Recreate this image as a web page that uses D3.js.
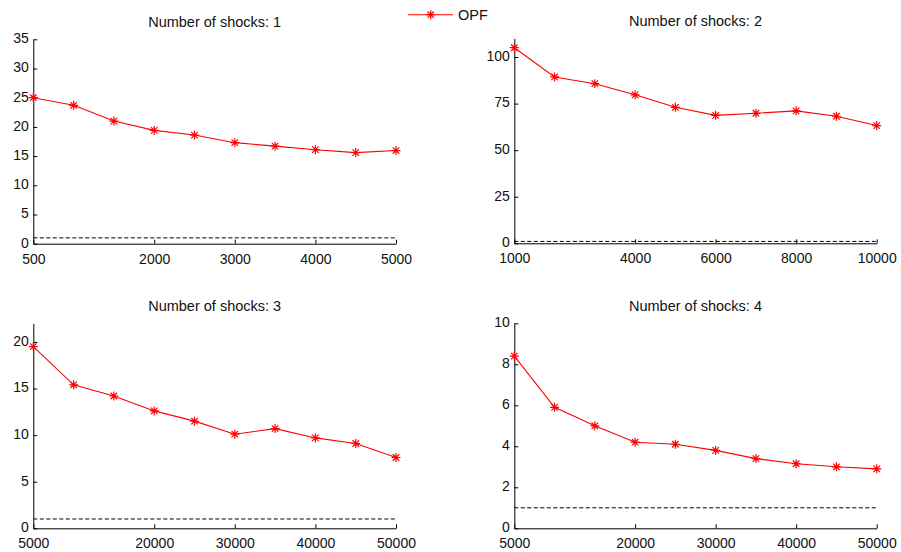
<!DOCTYPE html>
<html>
<head>
<meta charset="utf-8">
<script src="https://cdn.jsdelivr.net/npm/d3@7"></script>
<style>
  body { margin: 0; background: #fff; }
  svg { display: block; font-family: Arial, "Liberation Sans", sans-serif; }
</style>
</head>
<body>
<div class="visualization"></div>
<script>
// sample sizes (x) for each panel
const xShocks1 = [500, 1000, 1500, 2000, 2500, 3000, 3500, 4000, 4500, 5000];
const xShocks2 = [1000, 2000, 3000, 4000, 5000, 6000, 7000, 8000, 9000, 10000];
const xShocks3 = [5000, 10000, 15000, 20000, 25000, 30000, 35000, 40000, 45000, 50000];
const xShocks4 = [5000, 10000, 15000, 20000, 25000, 30000, 35000, 40000, 45000, 50000];

// OPF values
const opf1 = [25.0, 23.7, 21.0, 19.4, 18.6, 17.3, 16.7, 16.1, 15.6, 15.95];
const opf2 = [105.0, 89.3, 85.7, 79.7, 73.0, 68.7, 69.8, 71.1, 68.2, 63.2];
const opf3 = [19.5, 15.4, 14.2, 12.6, 11.5, 10.1, 10.7, 9.7, 9.1, 7.6];
const opf4 = [8.4, 5.9, 5.0, 4.2, 4.1, 3.8, 3.4, 3.15, 3.0, 2.9];

// reference level (dashed)
const refLevel = [1, 1, 1, 1];

// axis ticks
const xTicks1 = [500, 2000, 3000, 4000, 5000];
const xTicks2 = [1000, 4000, 6000, 8000, 10000];
const xTicks3 = [5000, 20000, 30000, 40000, 50000];
const xTicks4 = [5000, 20000, 30000, 40000, 50000];
const yTicks1 = [0, 5, 10, 15, 20, 25, 30, 35];
const yTicks2 = [0, 25, 50, 75, 100];
const yTicks3 = [0, 5, 10, 15, 20];
const yTicks4 = [0, 2, 4, 6, 8, 10];
const yMax = [35, 110, 22, 10];

const titles = ["Number of shocks: 1", "Number of shocks: 2", "Number of shocks: 3", "Number of shocks: 4"];
const seriesName = "OPF";

const panels = [
    { x: xShocks1, y: opf1, xt: xTicks1, yt: yTicks1, left: 33.3, right: 396, top: 39.3, bottom: 243.7 },
    { x: xShocks2, y: opf2, xt: xTicks2, yt: yTicks2, left: 514.3, right: 876.7, top: 38.4, bottom: 243.3 },
    { x: xShocks3, y: opf3, xt: xTicks3, yt: yTicks3, left: 33.3, right: 396, top: 323.3, bottom: 528.3 },
    { x: xShocks4, y: opf4, xt: xTicks4, yt: yTicks4, left: 514.3, right: 876.7, top: 323.3, bottom: 528.3 }
];

const svg = d3.select(".visualization")
    .append("svg")
    .attr("width", 901)
    .attr("height", 552);

const red = "#ff0000";

function star(g, cx, cy, r) {
    const d = r * 0.72;
    g.append("path")
        .attr("d", `M${cx - r},${cy}H${cx + r}M${cx},${cy - r}V${cy + r}` +
            `M${cx - d},${cy - d}L${cx + d},${cy + d}M${cx - d},${cy + d}L${cx + d},${cy - d}`)
        .attr("stroke", red)
        .attr("stroke-width", 1.2)
        .attr("fill", "none");
}

panels.forEach((p, i) => {
    const x = d3.scaleLinear().domain([p.x[0], p.x[p.x.length - 1]]).range([p.left, p.right]);
    const y = d3.scaleLinear().domain([0, yMax[i]]).range([p.bottom, p.top]);
    const g = svg.append("g");

    // dashed reference line
    g.append("line")
        .attr("x1", x(p.x[0])).attr("x2", x(p.x[p.x.length - 1]))
        .attr("y1", y(refLevel[i])).attr("y2", y(refLevel[i]))
        .attr("stroke", "#000")
        .attr("stroke-width", 1)
        .attr("stroke-dasharray", "4,2.5");

    // axes
    const xAxis = g.append("g")
        .attr("transform", `translate(0,${p.bottom})`)
        .call(d3.axisBottom(x).tickValues(p.xt).tickSizeInner(-4).tickSizeOuter(0).tickPadding(8.5).tickFormat(d3.format("d")));
    const yAxis = g.append("g")
        .attr("transform", `translate(${p.left},0)`)
        .call(d3.axisLeft(y).tickValues(p.yt).tickSizeInner(-4).tickSizeOuter(0).tickPadding(4.5).tickFormat(d3.format("d")));
    [xAxis, yAxis].forEach(a => {
        a.select(".domain").attr("stroke", "#000");
        a.selectAll(".tick line").attr("stroke", "#000");
        a.selectAll(".tick text").attr("fill", "#111").attr("font-size", 14).attr("font-family", "Arial, 'Liberation Sans', sans-serif");
    });
    xAxis.selectAll(".tick text").attr("dy", "0.82em");
    yAxis.selectAll(".tick text").attr("dy", "0.24em");

    // series line
    const line = d3.line().x((d, j) => x(p.x[j])).y(d => y(d));
    g.append("path")
        .datum(p.y)
        .attr("d", line)
        .attr("fill", "none")
        .attr("stroke", red)
        .attr("stroke-width", 1.1);

    p.y.forEach((v, j) => star(g, x(p.x[j]), y(v), 4.5));

    // title
    g.append("text")
        .attr("x", (p.left + p.right) / 2)
        .attr("y", p.top - 12)
        .attr("text-anchor", "middle")
        .attr("font-size", 14.5)
        .attr("fill", "#111")
        .text(titles[i]);
});

// legend
const lg = svg.append("g");
lg.append("line")
    .attr("x1", 408).attr("x2", 453).attr("y1", 14.7).attr("y2", 14.7)
    .attr("stroke", red).attr("stroke-width", 1.1);
star(lg, 430.7, 14.7, 4.5);
lg.append("text")
    .attr("x", 458).attr("y", 20)
    .attr("font-size", 14.5)
    .attr("fill", "#111")
    .text(seriesName);
</script>
</body>
</html>
